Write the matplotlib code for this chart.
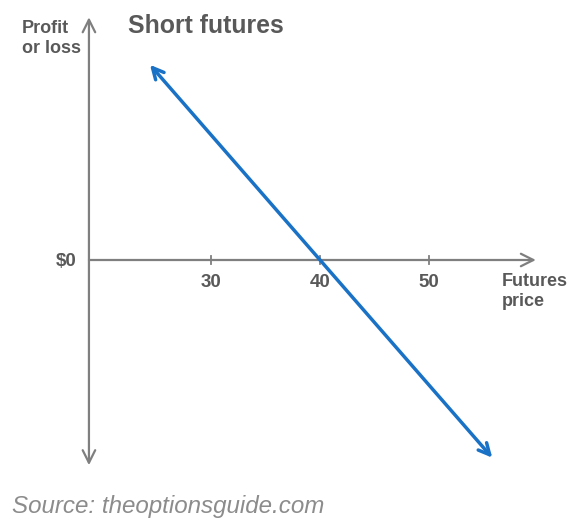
import matplotlib
matplotlib.use("Agg")
import matplotlib.pyplot as plt

# Data
strike = 40
tick_values = [30, 40, 50]
tick_labels = ["30", "40", "50"]
line_prices = [24.4, 55.8]
line_profit = [strike - p for p in line_prices]
x_axis_range = [18.8, 59.8]
y_axis_range = [-16.4, 19.4]

plt.rcParams['font.family'] = ['Liberation Sans', 'DejaVu Sans']

W, H = 580, 525
fig = plt.figure(figsize=(5.8, 5.25), dpi=100)
ax = fig.add_axes([0, 0, 1, 1])
ax.set_xlim(10.64, 63.85)
ax.set_ylim(-21.18, 20.78)
ax.axis('off')

axis_col = '#7f7f7f'
text_col = '#595959'
blue = '#1a72c6'

# axes arrows
ax.annotate('', xy=(x_axis_range[1], 0), xytext=(x_axis_range[0], 0),
            arrowprops=dict(arrowstyle='->,head_length=0.9,head_width=0.45', color=axis_col,
                            lw=1.6, shrinkA=0, shrinkB=0))
ax.annotate('', xy=(x_axis_range[0], y_axis_range[1]), xytext=(x_axis_range[0], y_axis_range[0]),
            arrowprops=dict(arrowstyle='<->,head_length=0.9,head_width=0.45', color=axis_col,
                            lw=1.6, shrinkA=0, shrinkB=0))

# ticks
for v, lab in zip(tick_values, tick_labels):
    ax.plot([v, v], [-0.35, 0.35], color=axis_col, lw=1.3)
    ax.text(v, -(286.5 - 260) / 12.51, lab, ha='center', va='baseline', fontsize=13.5,
            fontweight='bold', color=text_col)

# payoff line
ax.annotate('', xy=(line_prices[1], line_profit[1]), xytext=(line_prices[0], line_profit[0]),
            arrowprops=dict(arrowstyle='<->,head_length=0.8,head_width=0.4', color=blue,
                            lw=2.5, shrinkA=0, shrinkB=0))

def ftext(x, y, s, **kw):
    fig.text(x / W, 1 - y / H, s, **kw)

bold = dict(fontweight='bold', color=text_col, va='baseline')
ftext(22, 32.7, 'Profit', ha='left', fontsize=13, **bold)
ftext(22, 53.3, 'or loss', ha='left', fontsize=13, **bold)
ftext(128, 33, 'Short futures', ha='left', fontsize=17.9, **bold)
ftext(77, 266, '$0', ha='right', fontsize=13.5, **bold)
ftext(502, 286, 'Futures', ha='left', fontsize=13, **bold)
ftext(502, 306.5, 'price', ha='left', fontsize=13, **bold)
ftext(12, 513, 'Source: theoptionsguide.com', ha='left', va='baseline',
      fontsize=17.4, style='italic', color='#8c8c8c')

fig.savefig('out.png', dpi=100)
